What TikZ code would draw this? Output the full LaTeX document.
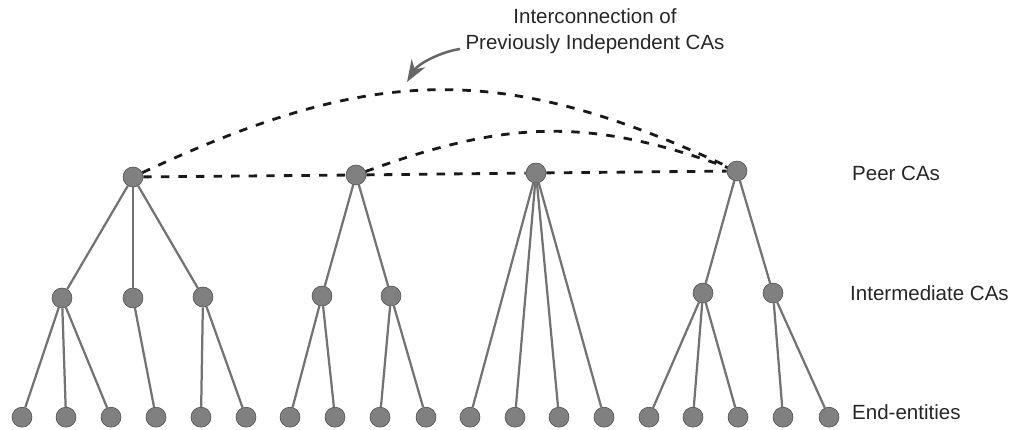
\documentclass[tikz,border=0pt]{standalone}
\usepackage{fontspec}
\setmainfont{Liberation Sans}
\usepackage{tikz}
\usetikzlibrary{shapes,arrows.meta,positioning,calc}

\tikzset{
  ca/.style={circle, draw=black!70, fill=black!50, minimum size=0.5cm, inner sep=0pt},
  link/.style={draw=black!55, line width=1.6pt},
  peer/.style={draw=black!90, line width=2pt, dash pattern=on 6pt off 6.5pt},
  pointer/.style={draw=black!60, line width=1.8pt, -{Stealth[length=0.55cm,width=0.4cm]}},
  lbl/.style={anchor=west, text=black!85, font=\fontsize{14.6}{18.5}\selectfont},
}

\begin{document}
\begin{tikzpicture}
\useasboundingbox (0,0) rectangle (25.325,10.75);
% Level 0: peer CAs
\node[ca] (p1) at (3.325,6.325) {};
\node[ca] (p2) at (8.9,6.375) {};
\node[ca] (p3) at (13.4,6.425) {};
\node[ca] (p4) at (18.425,6.475) {};
% Level 1: intermediate CAs
\node[ca] (i1) at (1.55,3.3) {};
\node[ca] (i2) at (3.325,3.3) {};
\node[ca] (i3) at (5.075,3.325) {};
\node[ca] (i4) at (8.05,3.35) {};
\node[ca] (i5) at (9.775,3.35) {};
\node[ca] (i6) at (17.575,3.425) {};
\node[ca] (i7) at (19.325,3.425) {};
% Level 2: end-entities
\foreach \x [count=\i] in {0.55,1.65,2.775,3.9,5.025,6.15,7.25,8.375,9.5,10.65,11.75,12.875,13.975,15.1,16.225,17.325,18.45,19.575,20.725}
  \node[ca] (e\i) at (\x,0.32) {};
% labels
\node[lbl] (peerlbl) at (21.18,6.425) {Peer CAs};
\node[lbl] (interlbl) at (21.13,3.425) {Intermediate CAs};
\node[lbl] (endlbl) at (21.18,0.45) {End-entities};
\node[lbl, anchor=center, align=center] (note) at (14.875,9.975) {Interconnection of\\Previously Independent CAs};
% tree links
\foreach \a/\b in {p1/i1,p1/i2,p1/i3,p2/i4,p2/i5,p4/i6,p4/i7,
                   i1/e1,i1/e2,i1/e3,i2/e4,i3/e5,i3/e6,i4/e7,i4/e8,i5/e9,i5/e10,
                   p3/e11,p3/e12,p3/e13,p3/e14,i6/e15,i6/e16,i6/e17,i7/e18,i7/e19}
  \draw[link] (\a) -- (\b);
% peer links
\draw[peer] (p1) -- (p2);
\draw[peer] (p2) -- (p3);
\draw[peer] (p3) -- (p4);
\draw[peer] (p1) to[out=25, in=155, looseness=1.1] (p4);
\draw[peer] (p2) to[out=20, in=160, looseness=1.05] (p4);
% arrow
\coordinate (from) at (11.5,9.525);
\coordinate (tip) at (10.175,8.7);
\draw[pointer] (from) .. controls (11.0,9.45) and (10.45,9.15) .. (tip);
\end{tikzpicture}
\end{document}
